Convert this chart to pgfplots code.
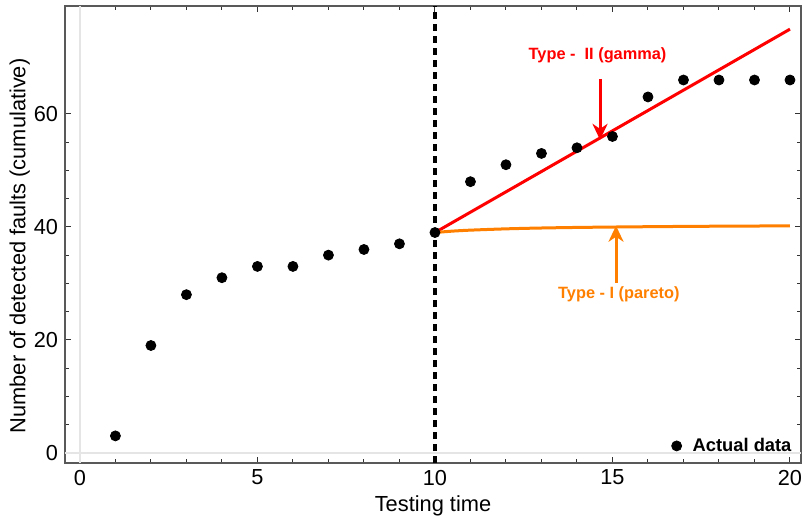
\documentclass[border=0pt]{standalone}
\usepackage{fontspec}
\setmainfont{Liberation Sans}
\usepackage{pgfplots}
\pgfplotsset{compat=1.18}
\usetikzlibrary{arrows.meta, calc}
\definecolor{mmaorange}{rgb}{1,0.5,0}
\definecolor{framegray}{gray}{0.35}
\definecolor{zerogray}{gray}{0.9}

\begin{document}
\begin{tikzpicture}
\begin{axis}[
  name=ax,
  scale only axis,
  width=368bp, height=228.5bp,
  xmin=-0.42, xmax=20.31,
  ymin=-1.8, ymax=79.1,
  xtick={0,5,...,20}, ytick={0,20,40,60},
  minor x tick num=4, minor y tick num=3,
  tick align=inside,
  major tick length=3bp, minor tick length=2bp,
  axis line style={framegray, line width=0.7bp},
  tick style={black!80, line width=0.5bp},
  /pgf/number format/assume math mode=true,
  ticklabel style={font=\fontsize{10.9}{12}\selectfont},
  xlabel={Testing time},
  ylabel={Number of detected faults (cumulative)},
  label style={font=\fontsize{10.95}{13}\selectfont, inner sep=0pt},
  xlabel style={at={(axis description cs:0.5,-0.1072)}, anchor=base},
  ylabel style={at={(axis description cs:-0.047,0.475)}, anchor=south},
  legend style={draw=none, fill=none, at={(axis description cs:0.993,0.01)},
    anchor=south east, inner sep=0pt,
    font=\bfseries\fontsize{9.2}{10}\selectfont},
  legend cell align=left,
]
% light axes through the origin
\addplot[zerogray, line width=1bp, forget plot] coordinates {(0,-1.8) (0,79.1)};
\addplot[zerogray, line width=1bp, forget plot] coordinates {(-0.42,0) (20.31,0)};

% change point
\addplot[black, line width=1.6bp, dash pattern=on 3.5bp off 2.5bp, forget plot]
  coordinates {(10,-1.8) (10,79.1)};

% Type-II (gamma)
\addplot[red, line width=1.5bp, forget plot] coordinates {(10,39) (20,75)};

% Type-I (pareto)
\addplot[mmaorange, line width=1.5bp, smooth, forget plot] coordinates {
  (10,39) (10.5,39.25) (11,39.42) (12,39.65) (13,39.8) (14,39.9)
  (15,39.97) (16,40.03) (17,40.08) (18,40.12) (19,40.15) (20,40.18)
};

% actual data
\addplot[only marks, mark=*, mark size=2.5bp, black] coordinates {
  (1,3) (2,19) (3,28) (4,31) (5,33) (6,33) (7,35) (8,36) (9,37) (10,39)
  (11,48) (12,51) (13,53) (14,54) (15,56) (16,63) (17,66) (18,66) (19,66) (20,66)
};
\addlegendentry{\hspace{3.5bp}Actual data}

% annotations
\draw[red, line width=1.5bp, -{Stealth[length=8bp, width=7.5bp, inset=2.5bp]}]
  (axis cs:14.65,66.2) -- (axis cs:14.65,55.4);
\node[red, font=\bfseries\fontsize{8.2}{9}\selectfont]
  at (axis cs:14.58,70.3) {Type -\ \ II (gamma)};
\draw[mmaorange, line width=1.5bp, -{Stealth[length=8bp, width=7.5bp, inset=2.5bp]}]
  (axis cs:15.1,30.1) -- (axis cs:15.1,40.2);
\node[mmaorange, font=\bfseries\fontsize{8.2}{9}\selectfont]
  at (axis cs:15.18,28) {Type - I (pareto)};
\end{axis}
\pgfresetboundingbox
\path ($(ax.south west)+(-32.5bp,-29.5bp)$) rectangle ($(ax.north east)+(2bp,3bp)$);
\end{tikzpicture}
\end{document}
